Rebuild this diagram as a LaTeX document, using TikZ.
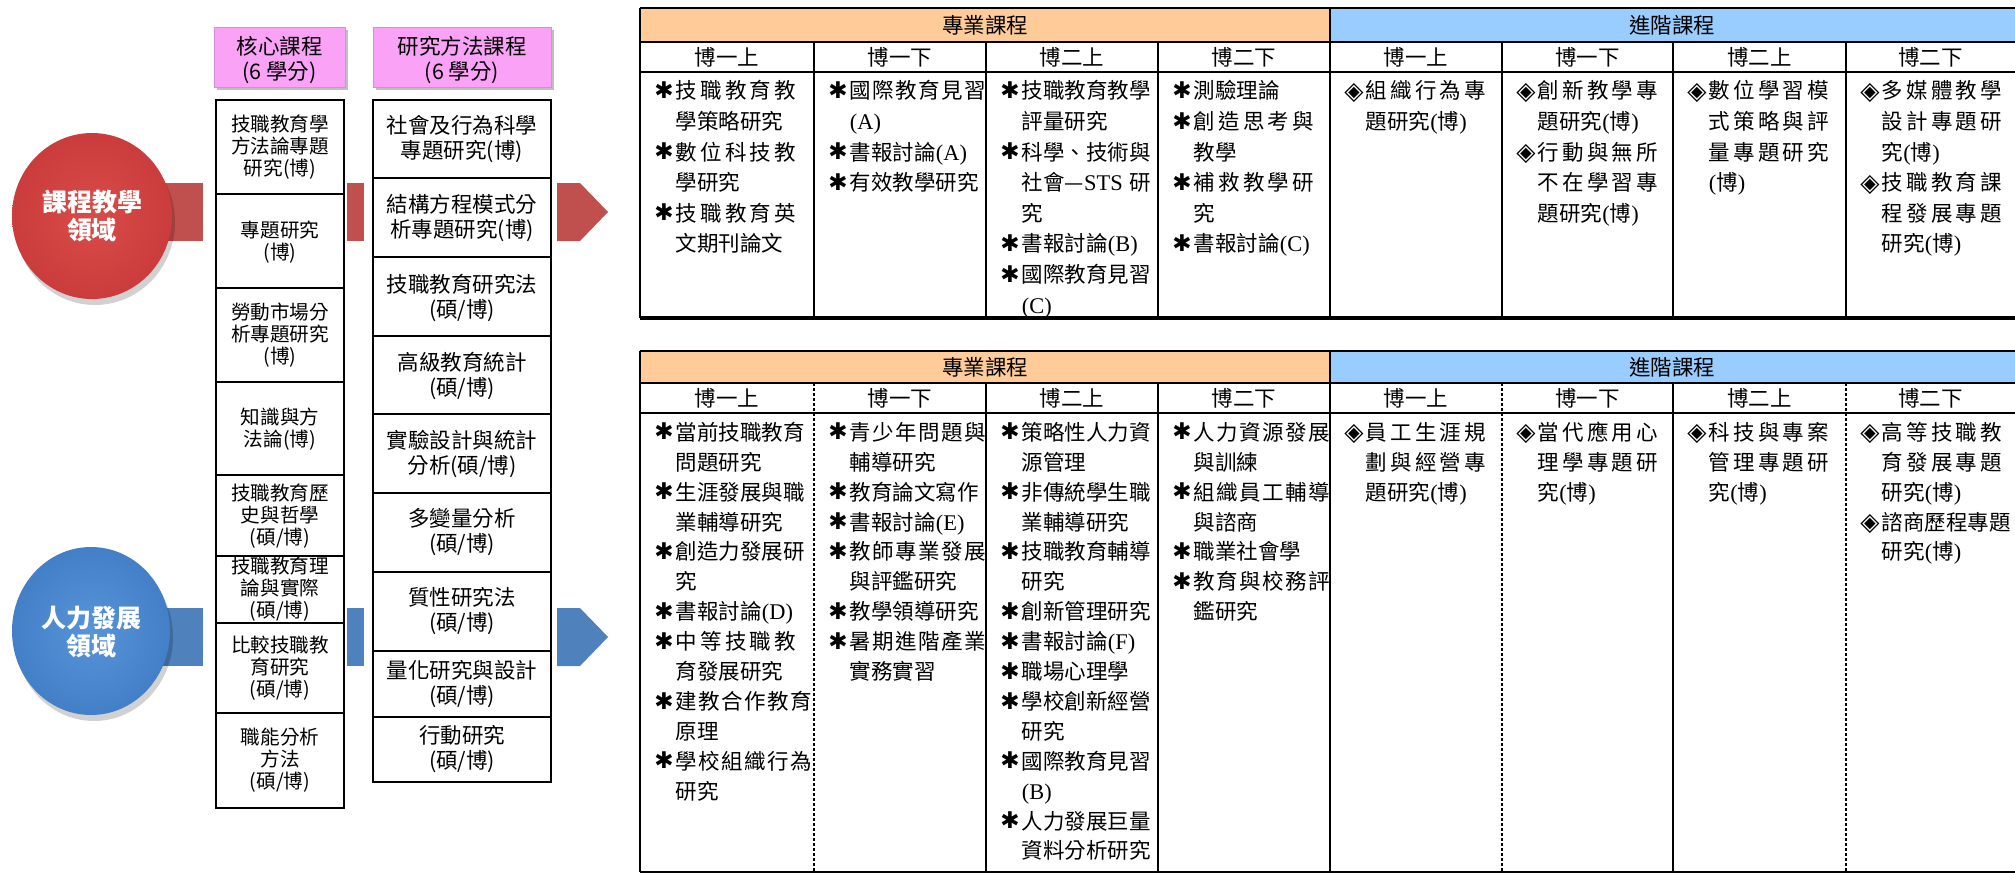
\documentclass[tikz,border=0pt]{standalone}
\usepackage{fontspec}
\setmainfont{Noto Sans CJK TC}
\newfontfamily\symf{DejaVu Sans}
\newfontfamily\latf{Liberation Serif}
\definecolor{orangeh}{HTML}{FFCC99}
\definecolor{blueh}{HTML}{99CCFF}
\definecolor{pinkh}{HTML}{F9A2F6}
\definecolor{pinkd}{HTML}{D48FD2}
\definecolor{redband}{HTML}{C0504D}
\definecolor{blueband}{HTML}{4F81BD}
\definecolor{rc0}{HTML}{D84C48}
\definecolor{rc1}{HTML}{C8393A}
\definecolor{rc2}{HTML}{9E2628}
\definecolor{bc0}{HTML}{5894D8}
\definecolor{bc1}{HTML}{3F7BC4}
\definecolor{bc2}{HTML}{2C5C98}
\pgfdeclareradialshading{redball}{\pgfpoint{0bp}{0bp}}{color(0bp)=(rc0); color(30bp)=(rc1); color(46bp)=(rc2); color(50bp)=(rc2)}
\pgfdeclareradialshading{blueball}{\pgfpoint{0bp}{0bp}}{color(0bp)=(bc0); color(30bp)=(bc1); color(46bp)=(bc2); color(50bp)=(bc2)}
\makeatletter
\newcommand\jl[2][60pt]{\hbox to #1{\jl@first#2\relax}}
\def\jl@first#1{#1\jl@rest}
\def\jl@rest#1{\ifx\relax#1\else\hfil#1\expandafter\jl@rest\fi}
\makeatother
\newcommand\stb{\makebox[1em][l]{\symf\fontsize{11.5}{11.5}\selectfont\raisebox{0.2pt}{✱}}}
\newcommand\dmd{\makebox[1em][l]{\symf\fontsize{12.5}{12.5}\selectfont\raisebox{-0.3pt}{◈}}}
\newcommand\ind{\hspace*{1em}}
\newcommand\pa[1]{{\latf\fontsize{11.2}{11.2}\selectfont(}#1{\latf\fontsize{11.2}{11.2}\selectfont)}}
\newcommand\la[1]{{\latf\fontsize{11.2}{11.2}\selectfont #1}}
\newcommand\tfa{\fontsize{10.75}{15.3}\selectfont}
\newcommand\tfb{\fontsize{10.75}{14.95}\selectfont}
\tikzset{
  cella/.style={anchor=north west, inner sep=0pt, text width=85pt, align=left, font=\tfa},
  cellb/.style={anchor=north west, inner sep=0pt, text width=85pt, align=left, font=\tfb},
  hdr/.style={inner sep=0pt, font=\fontsize{10.75}{12}\selectfont},
  core/.style={inner sep=0pt, align=center, font=\fontsize{9.8}{11}\selectfont},
  meth/.style={inner sep=0pt, align=center, font=\fontsize{10.75}{12.5}\selectfont},
  pinkt/.style={inner sep=0pt, align=center, font=\fontsize{10.75}{12.5}\selectfont},
  circt/.style={inner sep=0pt, align=center, text=white, font=\fontsize{12.5}{14}\selectfont\bfseries},
  cbox/.style={draw=black, line width=1.2pt, fill=white},
  tline/.style={line width=0.6pt},
  mline/.style={line width=0.9pt},
  kline/.style={line width=1.3pt},
  dline/.style={line width=0.6pt, dash pattern=on 1.5pt off 1pt},
}
\begin{document}
\begin{tikzpicture}[x=0.5pt,y=-0.5pt]
\useasboundingbox (0,0) rectangle (2015,874);
\fill[white] (0,0) rectangle (2015,874);

% ---- bands
\fill[redband] (92,183) rectangle (203,241);
\fill[redband] (347,183) rectangle (364,241);
\fill[redband] (557,183) -- (580,183) -- (608,212) -- (580,241) -- (557,241) -- cycle;
\fill[blueband] (92,608) rectangle (203,666);
\fill[blueband] (347,608) rectangle (364,666);
\fill[blueband] (557,608) -- (580,608) -- (608,637) -- (580,666) -- (557,666) -- cycle;

% ---- circles
\fill[black,opacity=0.18] (95,222) ellipse [x radius=80, y radius=83];
\shade[shading=redball] (92,216) ellipse [x radius=80, y radius=83];
\node[circt] (w1) at (92,216) {課程教學\\領域};
\fill[black,opacity=0.18] (94,637) ellipse [x radius=79, y radius=84];
\shade[shading=blueball] (91,631) ellipse [x radius=79, y radius=84];
\node[circt] (w2) at (91,632) {人力發展\\領域};

% ---- pink headers
\fill[black,opacity=0.25] (217,30) rectangle (348,90);
\filldraw[fill=pinkh, draw=pinkd, line width=0.5pt] (214,27) rectangle (345,87);
\node[pinkt] (p1) at (279.5,60.5) {核心課程\\(6 學分)};
\fill[black,opacity=0.25] (376,30) rectangle (554,90);
\filldraw[fill=pinkh, draw=pinkd, line width=0.5pt] (373,27) rectangle (551,87);
\node[pinkt] (p2) at (462,60.5) {研究方法課程\\(6 學分)};

% ---- core column
\foreach \a/\b in {100/194,194/288,288/382,382/475,475/556,556/623,623/713,713/808}
  \draw[cbox] (216,\a) rectangle (344,\b);
\node[core] (k1) at (280,147) {技職教育學\\方法論專題\\研究(博)};
\node[core] (k2) at (280,242) {專題研究\\(博)};
\node[core] (k3) at (280,335) {勞動市場分\\析專題研究\\(博)};
\node[core] (k4) at (280,429) {知識與方\\法論(博)};
\node[core] (k5) at (280,516) {技職教育歷\\史與哲學\\(碩/博)};
\node[core] (k6) at (280,589.5) {技職教育理\\論與實際\\(碩/博)};
\node[core] (k7) at (280,668) {比較技職教\\育研究\\(碩/博)};
\node[core] (k8) at (280,760.5) {職能分析\\方法\\(碩/博)};

% ---- research methods column
\foreach \a/\b in {100/178,178/257,257/336,336/414,414/493,493/572,572/651,651/717,717/782}
  \draw[cbox] (373,\a) rectangle (551,\b);
\node[meth] (m1) at (462,139.5) {社會及行為科學\\專題研究(博)};
\node[meth] (m2) at (462,218.5) {結構方程模式分\\析專題研究(博)};
\node[meth] (m3) at (462,298) {技職教育研究法\\(碩/博)};
\node[meth] (m4) at (462,375.5) {高級教育統計\\(碩/博)};
\node[meth] (m5) at (462,453.5) {實驗設計與統計\\分析(碩/博)};
\node[meth] (m6) at (462,532.5) {多變量分析\\(碩/博)};
\node[meth] (m7) at (462,611.5) {質性研究法\\(碩/博)};
\node[meth] (m8) at (462,684) {量化研究與設計\\(碩/博)};
\node[meth] (m9) at (462,749.5) {行動研究\\(碩/博)};

% ================= TOP TABLE
\fill[orangeh] (640,8) rectangle (1330,42);
\fill[blueh] (1330,8) rectangle (2015,42);
\draw[kline] (640,8) -- (2015,8);
\draw[mline] (640,42) -- (2015,42);
\draw[mline] (640,72) -- (2015,72);
\draw[line width=1.6pt] (640,318) -- (2015,318);
\draw[mline] (640,8) -- (640,318);
\draw[line width=1.2pt] (1330,8) -- (1330,318);
\draw[line width=1.2pt] (1158,42) -- (1158,318);
\foreach \x in {814,986,1502,1673,1846} \draw[tline] (\x,42) -- (\x,318);
\node[hdr] (ta) at (985,25) {專業課程};
\node[hdr] (tb) at (1672,25) {進階課程};
\node[hdr] (th1) at (727,57) {博一上};
\node[hdr] (th2) at (900,57) {博一下};
\node[hdr] (th3) at (1072,57) {博二上};
\node[hdr] (th4) at (1244,57) {博二下};
\node[hdr] (th5) at (1416,57) {博一上};
\node[hdr] (th6) at (1587.5,57) {博一下};
\node[hdr] (th7) at (1759.5,57) {博二上};
\node[hdr] (th8) at (1930.5,57) {博二下};

\node[cella] (tc1) at (654,77) {\strut\stb\jl{技職教育教}\\\ind 學策略研究\\\stb\jl{數位科技教}\\\ind 學研究\\\stb\jl{技職教育英}\\\ind 文期刊論文};
\node[cella] (tc2) at (828,77) {\strut\stb\jl[68pt]{國際教育見習}\\\ind\la{(A)}\\\stb 書報討論\la{(A)}\\\stb 有效教學研究};
\node[cella] (tc3) at (1000,77) {\strut\stb 技職教育教學\\\ind 評量研究\\\stb 科學、技術與\\\ind 社會—\la{STS} 研\\\ind 究\\\stb 書報討論\la{(B)}\\\stb 國際教育見習\\\ind\la{(C)}};
\node[cella] (tc4) at (1172,77) {\strut\stb 測驗理論\\\stb\jl{創造思考與}\\\ind 教學\\\stb\jl{補救教學研}\\\ind 究\\\stb 書報討論\la{(C)}};
\node[cella] (tc5) at (1344,77) {\strut\dmd\jl{組織行為專}\\\ind 題研究\pa{博}};
\node[cella] (tc6) at (1516,77) {\strut\dmd\jl{創新教學專}\\\ind 題研究\pa{博}\\\dmd\jl{行動與無所}\\\ind\jl{不在學習專}\\\ind 題研究\pa{博}};
\node[cella] (tc7) at (1687,77) {\strut\dmd\jl{數位學習模}\\\ind\jl{式策略與評}\\\ind\jl{量專題研究}\\\ind\pa{博}};
\node[cella] (tc8) at (1860,77) {\strut\dmd\jl{多媒體教學}\\\ind\jl{設計專題研}\\\ind 究\pa{博}\\\dmd\jl{技職教育課}\\\ind\jl{程發展專題}\\\ind 研究\pa{博}};

% ================= BOTTOM TABLE
\fill[orangeh] (640,351) rectangle (1330,383);
\fill[blueh] (1330,351) rectangle (2015,383);
\draw[kline] (640,351) -- (2015,351);
\draw[mline] (640,383) -- (2015,383);
\draw[mline] (640,413) -- (2015,413);
\draw[line width=1.4pt] (640,872) -- (2015,872);
\draw[mline] (640,351) -- (640,872);
\draw[line width=1.2pt] (1330,351) -- (1330,872);
\draw[line width=1.2pt] (1158,383) -- (1158,872);
\foreach \x in {986,1673} \draw[tline] (\x,383) -- (\x,872);
\foreach \x in {814,1502,1846} \draw[dline] (\x,383) -- (\x,872);
\node[hdr] (ba) at (985,367) {專業課程};
\node[hdr] (bb) at (1672,367) {進階課程};
\node[hdr] (bh1) at (727,398) {博一上};
\node[hdr] (bh2) at (900,398) {博一下};
\node[hdr] (bh3) at (1072,398) {博二上};
\node[hdr] (bh4) at (1244,398) {博二下};
\node[hdr] (bh5) at (1416,398) {博一上};
\node[hdr] (bh6) at (1587.5,398) {博一下};
\node[hdr] (bh7) at (1759.5,398) {博二上};
\node[hdr] (bh8) at (1930.5,398) {博二下};

\node[cellb] (bc1) at (654,419) {\strut\stb 當前技職教育\\\ind 問題研究\\\stb 生涯發展與職\\\ind 業輔導研究\\\stb 創造力發展研\\\ind 究\\\stb 書報討論\la{(D)}\\\stb\jl{中等技職教}\\\ind 育發展研究\\\stb\jl[68pt]{建教合作教育}\\\ind 原理\\\stb\jl[68pt]{學校組織行為}\\\ind 研究};
\node[cellb] (bc2) at (828,419) {\strut\stb\jl[68pt]{青少年問題與}\\\ind 輔導研究\\\stb 教育論文寫作\\\stb 書報討論\la{(E)}\\\stb\jl[68pt]{教師專業發展}\\\ind 與評鑑研究\\\stb 教學領導研究\\\stb\jl[68pt]{暑期進階產業}\\\ind 實務實習};
\node[cellb] (bc3) at (1000,419) {\strut\stb 策略性人力資\\\ind 源管理\\\stb 非傳統學生職\\\ind 業輔導研究\\\stb 技職教育輔導\\\ind 研究\\\stb 創新管理研究\\\stb 書報討論\la{(F)}\\\stb 職場心理學\\\stb 學校創新經營\\\ind 研究\\\stb 國際教育見習\\\ind\la{(B)}\\\stb 人力發展巨量\\\ind 資料分析研究};
\node[cellb] (bc4) at (1172,419) {\strut\stb\jl[68pt]{人力資源發展}\\\ind 與訓練\\\stb\jl[68pt]{組織員工輔導}\\\ind 與諮商\\\stb 職業社會學\\\stb\jl[68pt]{教育與校務評}\\\ind 鑑研究};
\node[cellb] (bc5) at (1344,419) {\strut\dmd\jl{員工生涯規}\\\ind\jl{劃與經營專}\\\ind 題研究\pa{博}};
\node[cellb] (bc6) at (1516,419) {\strut\dmd\jl{當代應用心}\\\ind\jl{理學專題研}\\\ind 究\pa{博}};
\node[cellb] (bc7) at (1687,419) {\strut\dmd\jl{科技與專案}\\\ind\jl{管理專題研}\\\ind 究\pa{博}};
\node[cellb] (bc8) at (1860,419) {\strut\dmd\jl{高等技職教}\\\ind\jl{育發展專題}\\\ind 研究\pa{博}\\\dmd 諮商歷程專題\\\ind 研究\pa{博}};
\end{tikzpicture}
\end{document}
